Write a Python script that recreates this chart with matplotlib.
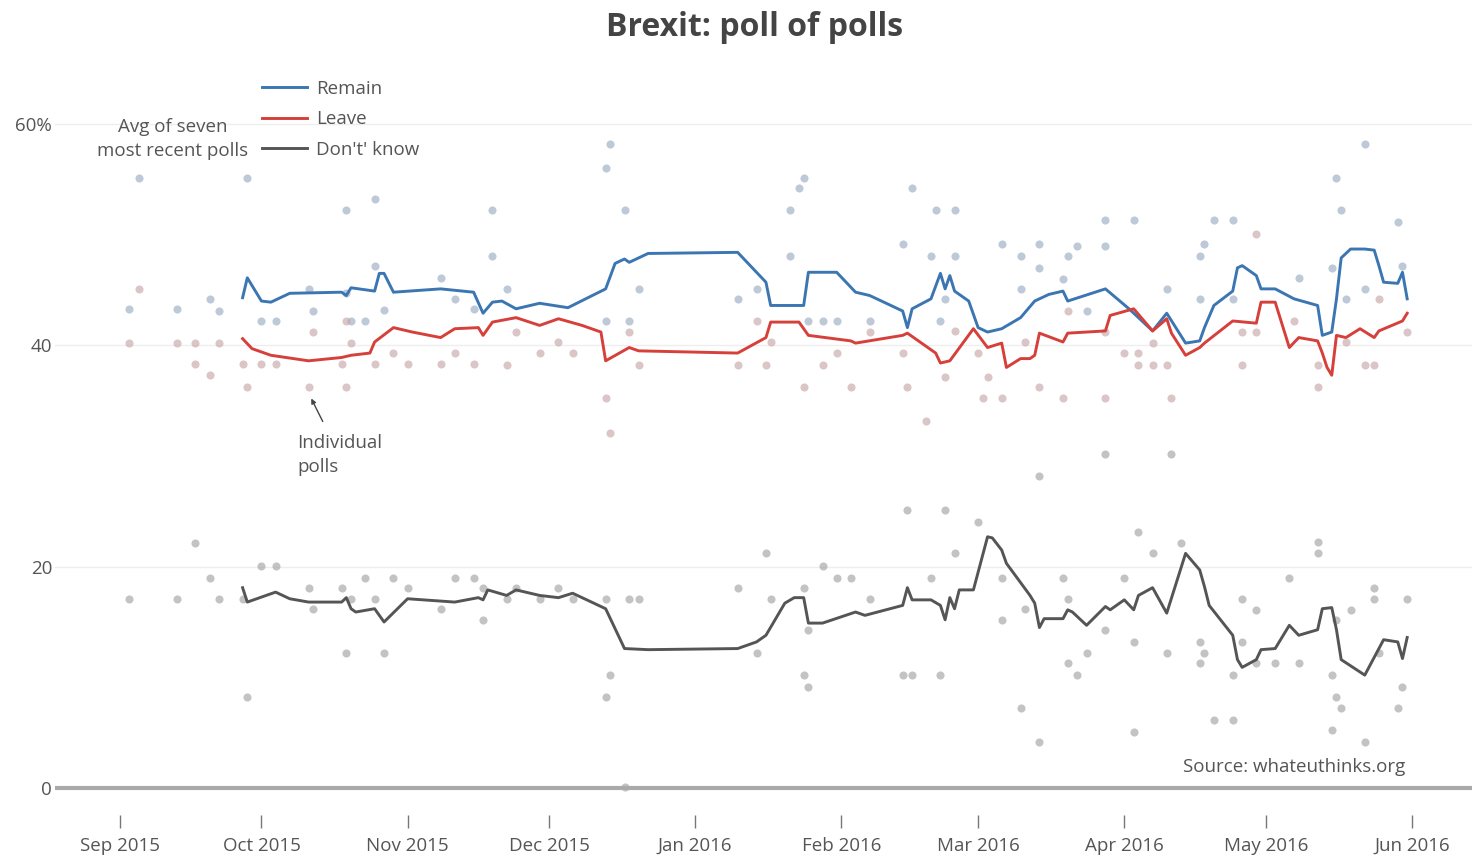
import matplotlib
matplotlib.use("Agg")
import matplotlib.pyplot as plt
import matplotlib.dates as mdates
import pandas as pd

plt.rcParams['font.family'] = ['Open Sans', 'DejaVu Sans']

# --- seven-poll rolling average lines ---
remain_dates = ["2015-09-27", "2015-09-28", "2015-10-01", "2015-10-03", "2015-10-07", "2015-10-18",
                "2015-10-19", "2015-10-20", "2015-10-25", "2015-10-26", "2015-10-27", "2015-10-29",
                "2015-11-08", "2015-11-15", "2015-11-17", "2015-11-19", "2015-11-21", "2015-11-24",
                "2015-11-29", "2015-12-05", "2015-12-13", "2015-12-15", "2015-12-17", "2015-12-18",
                "2015-12-22", "2016-01-10", "2016-01-16", "2016-01-17", "2016-01-24", "2016-01-25",
                "2016-01-31", "2016-02-04", "2016-02-07", "2016-02-14", "2016-02-15", "2016-02-16",
                "2016-02-20", "2016-02-22", "2016-02-23", "2016-02-24", "2016-02-25", "2016-02-28",
                "2016-03-01", "2016-03-03", "2016-03-06", "2016-03-10", "2016-03-13", "2016-03-16",
                "2016-03-19", "2016-03-20", "2016-03-28", "2016-04-02", "2016-04-07", "2016-04-10",
                "2016-04-14", "2016-04-17", "2016-04-18", "2016-04-20", "2016-04-24", "2016-04-25",
                "2016-04-26", "2016-04-29", "2016-04-30", "2016-05-03", "2016-05-07", "2016-05-12",
                "2016-05-13", "2016-05-15", "2016-05-16", "2016-05-17", "2016-05-19", "2016-05-22",
                "2016-05-24", "2016-05-25", "2016-05-26", "2016-05-29", "2016-05-30", "2016-05-31"]
remain_avg = [44.3, 46.1, 44.0, 43.9, 44.7, 44.8, 44.5, 45.2, 44.9, 46.5, 46.5, 44.8,
              45.1, 44.8, 42.9, 43.9, 44.0, 43.3, 43.8, 43.4, 45.1, 47.4, 47.8, 47.5,
              48.3, 48.4, 45.7, 43.6, 43.6, 46.6, 46.6, 44.8, 44.5, 43.1, 41.6, 43.3,
              44.2, 46.5, 45.1, 46.3, 44.9, 44.0, 41.6, 41.2, 41.5, 42.5, 44.0, 44.6,
              44.9, 44.0, 45.1, 43.3, 41.3, 42.9, 40.2, 40.4, 41.6, 43.6, 44.9, 47.0,
              47.2, 46.3, 45.1, 45.1, 44.2, 43.6, 40.9, 41.2, 44.2, 47.9, 48.7, 48.7,
              48.6, 47.2, 45.7, 45.6, 46.6, 44.2]

leave_dates = ["2015-09-27", "2015-09-29", "2015-10-03", "2015-10-11", "2015-10-18", "2015-10-20",
               "2015-10-24", "2015-10-25", "2015-10-29", "2015-11-02", "2015-11-08", "2015-11-11",
               "2015-11-16", "2015-11-17", "2015-11-19", "2015-11-24", "2015-11-29", "2015-12-03",
               "2015-12-08", "2015-12-12", "2015-12-13", "2015-12-18", "2015-12-20", "2016-01-10",
               "2016-01-16", "2016-01-17", "2016-01-23", "2016-01-24", "2016-01-25", "2016-02-03",
               "2016-02-04", "2016-02-14", "2016-02-15", "2016-02-18", "2016-02-21", "2016-02-22",
               "2016-02-24", "2016-02-29", "2016-03-03", "2016-03-06", "2016-03-07", "2016-03-10",
               "2016-03-12", "2016-03-13", "2016-03-14", "2016-03-19", "2016-03-20", "2016-03-28",
               "2016-03-29", "2016-04-03", "2016-04-07", "2016-04-10", "2016-04-11", "2016-04-14",
               "2016-04-17", "2016-04-18", "2016-04-24", "2016-04-29", "2016-04-30", "2016-05-03",
               "2016-05-06", "2016-05-08", "2016-05-12", "2016-05-13", "2016-05-14", "2016-05-15",
               "2016-05-16", "2016-05-18", "2016-05-21", "2016-05-24", "2016-05-25", "2016-05-30",
               "2016-05-31"]
leave_avg = [40.6, 39.7, 39.1, 38.6, 38.9, 39.1, 39.3, 40.3, 41.6, 41.2, 40.7, 41.5,
             41.6, 40.9, 42.1, 42.5, 41.8, 42.4, 41.8, 41.2, 38.6, 39.8, 39.5, 39.3,
             40.7, 42.1, 42.1, 41.5, 40.9, 40.4, 40.2, 40.9, 41.1, 40.2, 39.3, 38.4,
             38.6, 41.5, 39.8, 40.2, 38.0, 38.8, 38.8, 39.1, 41.1, 40.3, 41.1, 41.3,
             42.7, 43.3, 41.3, 42.4, 41.1, 39.1, 39.8, 40.2, 42.2, 42.0, 43.9, 43.9,
             39.8, 40.7, 40.4, 39.3, 38.0, 37.3, 40.9, 40.7, 41.5, 40.7, 41.3, 42.2,
             42.9]

dk_dates = ["2015-09-27", "2015-09-28", "2015-10-04", "2015-10-07", "2015-10-11", "2015-10-18",
            "2015-10-19", "2015-10-20", "2015-10-21", "2015-10-25", "2015-10-27", "2015-11-01",
            "2015-11-11", "2015-11-16", "2015-11-17", "2015-11-18", "2015-11-22", "2015-11-24",
            "2015-11-29", "2015-12-03", "2015-12-06", "2015-12-13", "2015-12-17", "2015-12-22",
            "2016-01-10", "2016-01-14", "2016-01-16", "2016-01-20", "2016-01-22", "2016-01-24",
            "2016-01-25", "2016-01-28", "2016-02-04", "2016-02-06", "2016-02-14", "2016-02-15",
            "2016-02-16", "2016-02-20", "2016-02-22", "2016-02-23", "2016-02-24", "2016-02-25",
            "2016-02-26", "2016-02-29", "2016-03-03", "2016-03-04", "2016-03-06", "2016-03-07",
            "2016-03-12", "2016-03-13", "2016-03-14", "2016-03-15", "2016-03-19", "2016-03-20",
            "2016-03-21", "2016-03-24", "2016-03-28", "2016-03-29", "2016-04-01", "2016-04-03",
            "2016-04-04", "2016-04-07", "2016-04-10", "2016-04-14", "2016-04-17", "2016-04-18",
            "2016-04-19", "2016-04-24", "2016-04-25", "2016-04-26", "2016-04-29", "2016-04-30",
            "2016-05-03", "2016-05-06", "2016-05-08", "2016-05-12", "2016-05-13", "2016-05-15",
            "2016-05-16", "2016-05-17", "2016-05-22", "2016-05-25", "2016-05-26", "2016-05-29",
            "2016-05-30", "2016-05-31"]
dk_avg = [18.1, 16.8, 17.7, 17.1, 16.8, 16.8, 17.2, 16.2, 15.9, 16.2, 15.0, 17.1,
          16.8, 17.2, 17.0, 17.9, 17.4, 17.9, 17.4, 17.2, 17.6, 16.2, 12.6, 12.5,
          12.6, 13.2, 13.8, 16.7, 17.2, 17.2, 14.9, 14.9, 15.9, 15.6, 16.5, 18.1,
          17.0, 17.0, 16.5, 15.2, 17.2, 16.2, 17.9, 17.9, 22.7, 22.6, 21.5, 20.3,
          17.4, 16.7, 14.5, 15.3, 15.3, 16.1, 15.9, 14.7, 16.4, 16.1, 17.0, 16.1,
          17.4, 18.1, 15.8, 21.2, 19.7, 18.2, 16.5, 13.8, 11.6, 10.9, 11.6, 12.5,
          12.6, 14.7, 13.8, 14.3, 16.2, 16.3, 14.3, 11.6, 10.2, 12.6, 13.4, 13.2,
          11.7, 13.6]

# --- individual polls ---
poll_remain_dates = ["2015-09-03", "2015-09-05", "2015-09-13", "2015-09-20", "2015-09-22", "2015-09-28",
                     "2015-10-01", "2015-10-04", "2015-10-11", "2015-10-12", "2015-10-19", "2015-10-19",
                     "2015-10-20", "2015-10-23", "2015-10-25", "2015-10-25", "2015-10-27", "2015-11-08",
                     "2015-11-11", "2015-11-15", "2015-11-19", "2015-11-19", "2015-11-22", "2015-12-13",
                     "2015-12-13", "2015-12-14", "2015-12-17", "2015-12-18", "2015-12-20", "2016-01-10",
                     "2016-01-14", "2016-01-21", "2016-01-21", "2016-01-23", "2016-01-24", "2016-01-25",
                     "2016-01-28", "2016-01-31", "2016-02-07", "2016-02-14", "2016-02-16", "2016-02-20",
                     "2016-02-21", "2016-02-25", "2016-02-25", "2016-02-23", "2016-02-22", "2016-03-06",
                     "2016-03-10", "2016-03-14", "2016-03-14", "2016-03-10", "2016-03-19", "2016-03-20",
                     "2016-03-22", "2016-03-28", "2016-03-28", "2016-04-03", "2016-03-24", "2016-04-10",
                     "2016-04-17", "2016-04-18", "2016-04-17", "2016-04-20", "2016-04-24", "2016-04-24",
                     "2016-05-08", "2016-05-15", "2016-05-16", "2016-05-17", "2016-05-22", "2016-05-29",
                     "2016-05-18", "2016-05-22", "2016-05-30"]
poll_remain = [43.3, 55.1, 43.3, 44.2, 43.1, 55.1,
               42.2, 42.2, 45.1, 43.1, 52.2, 44.7,
               42.2, 42.2, 53.2, 47.2, 43.2, 46.1,
               44.2, 43.3, 52.2, 48.1, 45.1, 56.0,
               42.2, 58.2, 52.2, 42.2, 45.1, 44.2,
               45.1, 48.1, 52.2, 54.2, 55.1, 42.2,
               42.2, 42.2, 42.2, 49.2, 54.2, 48.1,
               52.2, 52.2, 48.1, 44.2, 42.2, 49.2,
               48.1, 49.2, 47.0, 45.1, 46.0, 48.1,
               49.0, 49.0, 51.3, 51.3, 43.1, 45.1,
               44.2, 49.2, 48.1, 51.3, 51.3, 44.2,
               46.1, 47.0, 55.1, 52.2, 58.2, 51.1,
               44.2, 45.1, 47.2]

poll_leave_dates = ["2015-09-03", "2015-09-05", "2015-09-13", "2015-09-17", "2015-09-17", "2015-09-20",
                    "2015-09-22", "2015-09-27", "2015-09-28", "2015-10-01", "2015-10-04", "2015-10-11",
                    "2015-10-12", "2015-10-18", "2015-10-19", "2015-10-19", "2015-10-20", "2015-10-25",
                    "2015-10-29", "2015-11-01", "2015-11-08", "2015-11-11", "2015-11-15", "2015-11-22",
                    "2015-11-24", "2015-11-29", "2015-12-03", "2015-12-06", "2015-12-13", "2015-12-14",
                    "2015-12-18", "2015-12-20", "2016-01-10", "2016-01-14", "2016-01-16", "2016-01-17",
                    "2016-01-24", "2016-01-28", "2016-01-31", "2016-02-03", "2016-02-07", "2016-02-14",
                    "2016-02-15", "2016-02-19", "2016-02-23", "2016-02-25", "2016-03-01", "2016-03-03",
                    "2016-03-02", "2016-03-06", "2016-03-11", "2016-03-14", "2016-03-19", "2016-03-20",
                    "2016-03-28", "2016-03-28", "2016-04-01", "2016-04-04", "2016-04-04", "2016-04-07",
                    "2016-04-07", "2016-04-10", "2016-04-11", "2016-04-26", "2016-04-29", "2016-04-26",
                    "2016-04-29", "2016-05-07", "2016-05-12", "2016-05-12", "2016-05-18", "2016-05-22",
                    "2016-05-24", "2016-05-25", "2016-05-31"]
poll_leave = [40.2, 45.1, 40.2, 40.2, 38.3, 37.3,
              40.2, 38.3, 36.2, 38.3, 38.3, 36.2,
              41.2, 38.3, 42.2, 36.2, 40.2, 38.3,
              39.3, 38.3, 38.3, 39.3, 38.3, 38.2,
              41.2, 39.3, 40.3, 39.3, 35.2, 32.1,
              41.2, 38.2, 38.2, 42.2, 38.2, 40.3,
              36.2, 38.2, 39.3, 36.2, 41.2, 39.3,
              36.2, 33.2, 37.1, 41.3, 39.3, 37.1,
              35.2, 35.2, 40.3, 36.2, 35.2, 43.1,
              41.2, 35.2, 39.3, 39.3, 38.2, 38.2,
              40.2, 38.2, 35.2, 41.2, 41.2, 38.2,
              50.1, 42.2, 38.2, 36.2, 40.3, 38.2,
              38.2, 44.2, 41.2]

poll_dk_dates = ["2015-09-03", "2015-09-13", "2015-09-17", "2015-09-20", "2015-09-22", "2015-09-27",
                 "2015-09-28", "2015-10-01", "2015-10-04", "2015-10-11", "2015-10-12", "2015-10-18",
                 "2015-10-19", "2015-10-20", "2015-10-23", "2015-10-25", "2015-10-27", "2015-10-29",
                 "2015-11-01", "2015-11-08", "2015-11-11", "2015-11-15", "2015-11-17", "2015-11-17",
                 "2015-11-22", "2015-11-24", "2015-11-29", "2015-12-03", "2015-12-06", "2015-12-13",
                 "2015-12-14", "2015-12-13", "2015-12-17", "2015-12-18", "2015-12-20", "2016-01-10",
                 "2016-01-16", "2016-01-14", "2016-01-17", "2016-01-24", "2016-01-28", "2016-01-31",
                 "2016-02-03", "2016-01-25", "2016-01-24", "2016-01-25", "2016-02-07", "2016-02-14",
                 "2016-02-16", "2016-02-22", "2016-02-15", "2016-02-23", "2016-02-20", "2016-02-25",
                 "2016-03-01", "2016-03-06", "2016-03-06", "2016-03-11", "2016-03-14", "2016-03-10",
                 "2016-03-14", "2016-03-19", "2016-03-20", "2016-03-20", "2016-03-22", "2016-03-24",
                 "2016-03-28", "2016-03-28", "2016-04-01", "2016-04-03", "2016-04-03", "2016-04-04",
                 "2016-04-07", "2016-04-13", "2016-04-11", "2016-04-10", "2016-04-17", "2016-04-18",
                 "2016-04-17", "2016-04-20", "2016-04-24", "2016-04-24", "2016-04-26", "2016-04-26",
                 "2016-04-29", "2016-04-29", "2016-05-03", "2016-05-06", "2016-05-08", "2016-05-12",
                 "2016-05-12", "2016-05-15", "2016-05-15", "2016-05-16", "2016-05-17", "2016-05-16",
                 "2016-05-19", "2016-05-22", "2016-05-24", "2016-05-24", "2016-05-25", "2016-05-29",
                 "2016-05-30", "2016-05-31"]
poll_dk = [17.1, 17.1, 22.1, 19.0, 17.1, 17.1,
           8.2, 20.1, 20.1, 18.1, 16.2, 18.1,
           12.2, 17.1, 19.0, 17.1, 12.2, 19.0,
           18.1, 16.2, 19.0, 19.0, 18.1, 15.2,
           17.1, 18.1, 17.1, 18.1, 17.1, 17.1,
           10.2, 8.2, 0.1, 17.1, 17.1, 18.1,
           21.2, 12.2, 17.1, 18.1, 20.1, 19.0,
           19.0, 14.3, 10.2, 9.1, 17.1, 10.2,
           10.2, 10.2, 25.1, 25.1, 19.0, 21.2,
           24.0, 19.0, 15.2, 16.2, 28.2, 7.2,
           4.2, 19.0, 17.1, 11.3, 10.2, 12.2,
           14.3, 30.2, 19.0, 5.1, 13.2, 23.1,
           21.2, 22.1, 30.2, 12.2, 13.2, 12.2,
           11.3, 6.1, 6.1, 10.2, 17.1, 13.2,
           16.1, 11.3, 11.3, 19.0, 11.3, 22.2,
           21.2, 10.2, 5.2, 8.2, 7.2, 15.2,
           16.1, 4.2, 18.1, 17.1, 12.2, 7.2,
           9.1, 17.1]

blue = "#3b76b2"
red = "#d6403b"
grey = "#555555"
txt = "#555555"
fs = 13.5

W, H = 1472, 859
fig = plt.figure(figsize=(W / 100, H / 100), dpi=100)
ax = fig.add_axes([55 / W, (H - 815) / H, (W - 55) / W, 745 / H])

ax.scatter(pd.to_datetime(poll_remain_dates), poll_remain, s=34, color="#93a6bd", alpha=0.6, lw=0, zorder=2)
ax.scatter(pd.to_datetime(poll_leave_dates), poll_leave, s=34, color="#c4a0a3", alpha=0.6, lw=0, zorder=2)
ax.scatter(pd.to_datetime(poll_dk_dates), poll_dk, s=34, color="#9c9c9c", alpha=0.6, lw=0, zorder=2)

ax.plot(pd.to_datetime(remain_dates), remain_avg, color=blue, lw=2.1, zorder=4, label="Remain")
ax.plot(pd.to_datetime(leave_dates), leave_avg, color=red, lw=2.1, zorder=4, label="Leave")
ax.plot(pd.to_datetime(dk_dates), dk_avg, color=grey, lw=2.1, zorder=4, label="Don't' know")

ax.axhline(0, color="#aaaaaa", lw=3, zorder=3)

x0 = mdates.date2num(pd.Timestamp("2015-09-01")) - 65 / 4.715
x1 = mdates.date2num(pd.Timestamp("2015-09-01")) + (W - 120) / 4.715
ax.set_xlim(x0, x1)
ax.set_ylim(-27 / 11.067, -27 / 11.067 + 745 / 11.067)

ax.xaxis.set_major_locator(mdates.MonthLocator())
ax.xaxis.set_major_formatter(mdates.DateFormatter("%b %Y"))
ax.tick_params(axis="x", length=9, width=1, color="#777777", labelsize=fs, labelcolor=txt, pad=6.5)

ax.set_yticks([0, 20, 40, 60])
ax.set_yticklabels(["0", "20", "40", "60%"])
ax.tick_params(axis="y", length=0, labelsize=fs, labelcolor=txt, pad=2)
for v in [20, 40, 60]:
    ax.axhline(v, color="#eeeeee", lw=1, zorder=1)

for s in ax.spines.values():
    s.set_visible(False)

fig.text(755 / W, 1 - 28 / H, "Brexit: poll of polls", ha="center", va="center",
         fontsize=23, fontweight="bold", color="#444444")

leg = ax.legend(loc="upper left", bbox_to_anchor=(254 / W, 1 - 72 / H), bbox_transform=fig.transFigure,
                frameon=False, fontsize=fs, handlelength=2.4, handletextpad=0.5, labelspacing=0.68,
                borderaxespad=0)
for t in leg.get_texts():
    t.set_color(txt)

fig.text(173 / W, 1 - 139 / H, "Avg of seven\nmost recent polls", ha="center", va="center",
         fontsize=fs, color=txt, linespacing=1.45)
fig.text(297 / W, 1 - 455 / H, "Individual\npolls", ha="left", va="center",
         fontsize=fs, color=txt, linespacing=1.5)
ax.annotate("", xy=(310, H - 396), xycoords="figure pixels",
            xytext=(324, H - 424), textcoords="figure pixels",
            arrowprops=dict(arrowstyle="-|>", color="#444444", lw=1, mutation_scale=7))
fig.text(1405 / W, 1 - 767 / H, "Source: whateuthinks.org", ha="right", va="center",
         fontsize=fs, color=txt)

fig.savefig("out.png", dpi=100)
